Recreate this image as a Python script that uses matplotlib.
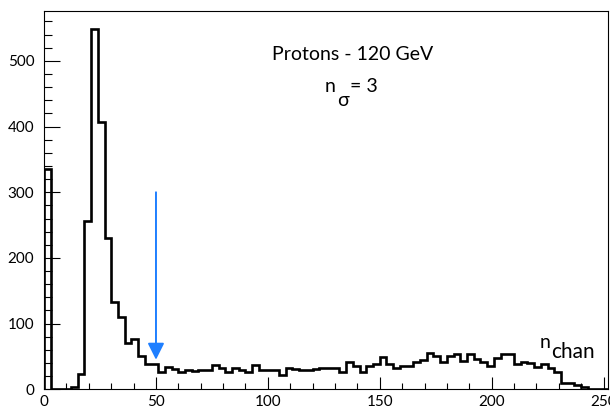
import numpy as np
import matplotlib
matplotlib.use('Agg')
import matplotlib.pyplot as plt
from matplotlib.ticker import MultipleLocator

# number of channels above threshold, 3-channel wide bins from 0 to 252
bin_width = 3
counts = [335, 0, 1, 1, 3, 24, 256, 549, 407, 231,
          133, 110, 71, 77, 51, 38, 38, 27, 34, 31,
          27, 29, 28, 30, 30, 37, 32, 27, 32, 29,
          26, 37, 29, 29, 30, 22, 33, 31, 30, 30,
          31, 32, 32, 33, 27, 41, 36, 27, 36, 38,
          49, 38, 32, 35, 36, 41, 45, 56, 50, 41,
          50, 54, 43, 53, 46, 41, 35, 48, 53, 53,
          38, 42, 40, 34, 38, 33, 27, 9, 10, 6,
          3, 1, 0, 0]
edges = np.arange(0, bin_width * len(counts) + 1, bin_width)

title = 'Protons - 120 GeV'
n_sigma = 3
cut_x = 50        # arrow position
arrow_top = 300
arrow_tip = 45

plt.rcParams['font.family'] = ['Lato', 'DejaVu Sans']

fig = plt.figure(figsize=(6.10, 4.11), dpi=100)
ax = fig.add_axes([0.0723, 0.0528, 0.9244, 0.9212])

ax.stairs(counts, edges, color='black', linewidth=1.9, baseline=0)

ax.set_xlim(0, edges[-1])
ax.set_ylim(0, 1.05 * max(counts))

ax.xaxis.set_major_locator(MultipleLocator(50))
ax.xaxis.set_minor_locator(MultipleLocator(10))
ax.yaxis.set_major_locator(MultipleLocator(100))
ax.yaxis.set_minor_locator(MultipleLocator(20))

ax.tick_params(axis='both', which='both', direction='in', top=False, right=False,
               width=0.8, labelsize=11)
ax.tick_params(axis='y', which='major', length=11.5, pad=7)
ax.tick_params(axis='y', which='minor', length=5.8)
ax.tick_params(axis='x', which='major', length=8.4, pad=4)
ax.tick_params(axis='x', which='minor', length=4.2)
for sp in ax.spines.values():
    sp.set_linewidth(0.8)

# threshold arrow
ax.annotate('', xy=(cut_x, arrow_tip), xytext=(cut_x, arrow_top),
            arrowprops=dict(arrowstyle='-|>,head_length=1.0,head_width=0.5',
                            color='#1f7fff', lw=1.4, shrinkA=0, shrinkB=0,
                            mutation_scale=10))

# labels
ax.text(0.547, 0.870, title, transform=ax.transAxes, ha='center', va='baseline',
        fontsize=14)
ax.text(0.498, 0.786, 'n', transform=ax.transAxes, ha='left', va='baseline', fontsize=14)
ax.text(0.519, 0.748, 'σ', transform=ax.transAxes, ha='left', va='baseline', fontsize=14)
ax.text(0.5424, 0.786, '= %d' % n_sigma, transform=ax.transAxes, ha='left',
        va='baseline', fontsize=14)

ax.text(0.879, 0.109, 'n', transform=ax.transAxes, ha='left', va='baseline', fontsize=14)
ax.text(0.900, 0.0827, 'chan', transform=ax.transAxes, ha='left', va='baseline', fontsize=15)

fig.savefig('out.png', dpi=100)
